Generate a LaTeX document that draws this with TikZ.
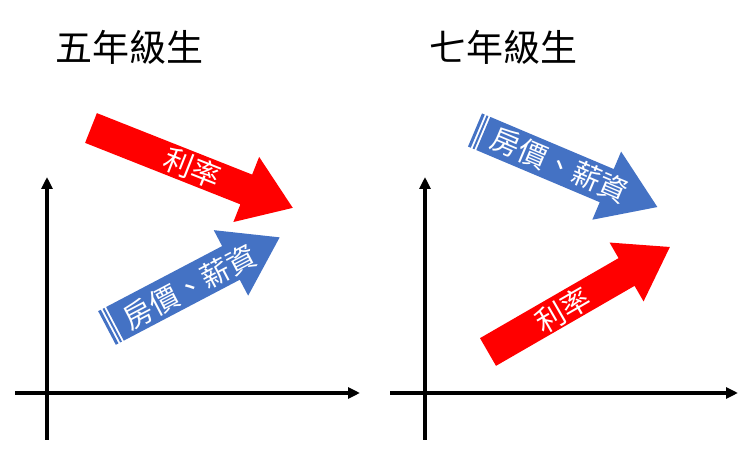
\documentclass[tikz,border=0pt]{standalone}
\usepackage{fontspec}
\setmainfont{Noto Sans CJK TC}
\usetikzlibrary{arrows.meta}

% fat block arrow: name, colour, tail, angle, length, half shaft, half head, head length, stripes
\newcommand\fatarrow[9]{%
  \begin{scope}[shift={#3}, rotate=#4]
    \def\stripes{#9}
    \ifx\stripes\empty
      \fill[#2] (0,-#6) -- (#5-#8,-#6) -- (#5-#8,-#7) -- (#5,0) -- (#5-#8,#7) -- (#5-#8,#6) -- (0,#6) -- cycle;
    \else
      \fill[#2] (0,-#6) rectangle (3,#6);
      \fill[#2] (5,-#6) rectangle (7,#6);
      \fill[#2] (9,-#6) -- (#5-#8,-#6) -- (#5-#8,-#7) -- (#5,0) -- (#5-#8,#7) -- (#5-#8,#6) -- (9,#6) -- cycle;
    \fi
  \end{scope}}

\begin{document}
\begin{tikzpicture}[x=1pt, y=1pt,
    axis/.style={line width=3.5pt, -{Triangle[length=12pt, width=11pt]}},
    title/.style={font=\fontsize{37}{40}\selectfont, anchor=west},
    label/.style={text=white, font=\fontsize{29}{32}\selectfont, inner sep=0pt, transform shape}]
  \useasboundingbox (0,0) rectangle (740,452);
  \definecolor{arrowred}{RGB}{255,0,0}
  \definecolor{arrowblue}{RGB}{68,114,196}

  \node[title] (t5) at (52,405) {五年級生};
  \node[title] (t7) at (426,405) {七年級生};

  % left panel
  \coordinate (lo1) at (47,12);  \coordinate (ly1) at (47,275);
  \coordinate (lx0) at (15,59);  \coordinate (lx1) at (360,59);
  \draw[axis] (lo1) -- (ly1);
  \draw[axis] (lx0) -- (lx1);
  \fatarrow{r5}{arrowred}{(91,324)}{-21.6}{217}{16}{35}{50}{}
  \fatarrow{b5}{arrowblue}{(107,124)}{27.7}{195}{19}{37}{55}{s}
  \node[label, rotate=-21.6] (r5t) at (193,284) {利率};
  \node[label, rotate=27.7] (b5t) at (190,165) {房價、薪資};

  % right panel
  \coordinate (ro1) at (425,12); \coordinate (ry1) at (425,275);
  \coordinate (rx0) at (390,59); \coordinate (rx1) at (738,59);
  \draw[axis] (ro1) -- (ry1);
  \draw[axis] (rx0) -- (rx1);
  \fatarrow{b7}{arrowblue}{(475,322)}{-22.9}{198}{18}{37}{55}{s}
  \fatarrow{r7}{arrowred}{(488,100)}{30}{210}{16}{34}{50}{}
  \node[label, rotate=-22.9] (b7t) at (560,287) {房價、薪資};
  \node[label, rotate=30] (r7t) at (563,142) {利率};
\end{tikzpicture}
\end{document}
